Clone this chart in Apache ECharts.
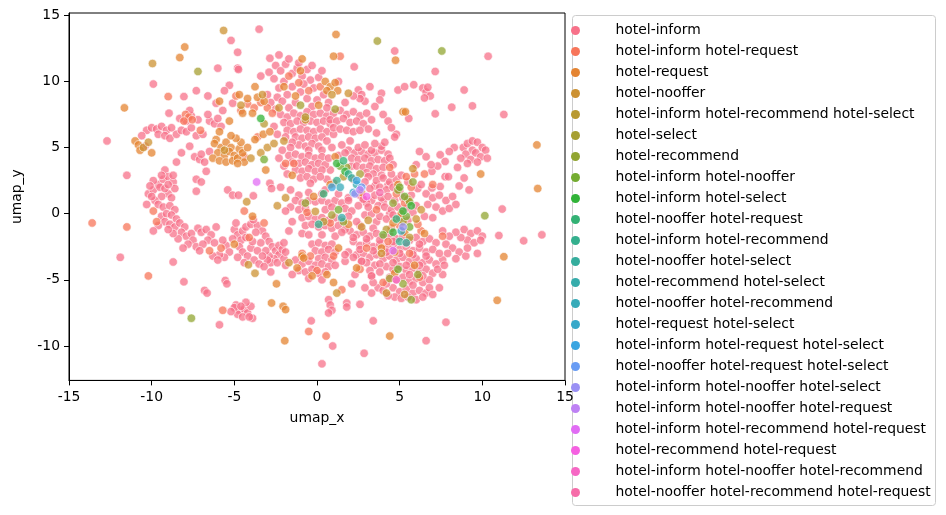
<!DOCTYPE html>
<html><head><meta charset="utf-8">
<script src="https://cdn.jsdelivr.net/npm/echarts@6/dist/echarts.min.js"></script>
<style>html,body{margin:0;padding:0;background:#fff}#c{width:946px;height:515px}</style>
</head><body><div id="c"></div><script>
const categories = [
  'hotel-inform','hotel-inform hotel-request','hotel-request','hotel-nooffer',
  'hotel-inform hotel-recommend hotel-select','hotel-select','hotel-recommend',
  'hotel-inform hotel-nooffer','hotel-inform hotel-select','hotel-nooffer hotel-request',
  'hotel-inform hotel-recommend','hotel-nooffer hotel-select','hotel-recommend hotel-select',
  'hotel-nooffer hotel-recommend','hotel-request hotel-select','hotel-inform hotel-request hotel-select',
  'hotel-nooffer hotel-request hotel-select','hotel-inform hotel-nooffer hotel-select',
  'hotel-inform hotel-nooffer hotel-request','hotel-inform hotel-recommend hotel-request',
  'hotel-recommend hotel-request','hotel-inform hotel-nooffer hotel-recommend',
  'hotel-nooffer hotel-recommend hotel-request'
];
const xTicks = [-15,-10,-5,0,5,10,15];
const yTicks = [-10,-5,0,5,10,15];

const hotelInform = [
[-12.7,5.5],[-9.9,9.8],[-8.05,8.85],[-8.95,7.6],[-6.0,11.0],[-4.8,11.0],[-5.2,13.1],[-4.8,12.2],[-3.5,13.95],[-5.3,9.7],[-7.3,9.3],[-6.6,8.9],[-6.1,8.35],[-5.1,8.35],[-5.6,9.3],[-4.75,10.9],
[-10.3,6.3],[-10.0,6.5],[-9.7,6.4],[-9.4,6.6],[-9.1,6.3],[-8.8,6.5],[-9.6,6.0],[-9.2,5.9],[-8.9,5.7],[-8.5,6.0],[-8.2,6.3],[-7.9,6.2],[-7.6,6.5],[-7.3,5.9],[-6.9,6.0],[-7.2,7.1],[-7.6,7.4],[-7.9,7.0],[-8.3,7.2],[-7.7,7.8],[-6.5,7.0],[-6.2,6.8],[-5.8,6.6],[-6.0,7.2],[-6.6,7.5],[-5.7,7.8],[-10.6,5.9],[-10.4,5.1],
[-7.7,5.1],[-7.4,4.3],[-7.1,4.1],[-6.8,3.9],[-7.0,4.5],[-8.5,3.9],[-9.2,3.3],[-6.7,3.2],[-7.3,2.6],[-7.0,2.4],[-7.3,1.7],[-11.5,2.9],[-8.2,4.6],[-6.5,4.7],
[-10.2,1.5],[-9.9,1.8],[-9.6,2.2],[-9.3,2.6],[-9.0,2.8],[-8.7,2.4],[-8.6,1.9],[-9.0,1.5],[-9.4,1.3],[-9.8,1.0],[-10.0,1.3],[-9.5,2.0],[-9.2,1.9],[-8.8,1.2],[-9.6,0.7],[-9.3,0.5],[-10.3,0.7],[-8.9,0.6],[-8.6,0.3],[-9.9,2.5],[-10.1,2.1],[-9.0,2.2],[-8.7,2.9],[-9.4,2.9],
[-9.4,-0.2],[-9.1,0.0],[-8.8,-0.1],[-8.5,-0.4],[-9.2,-0.6],[-8.9,-0.8],[-8.6,-1.0],[-8.3,-0.7],[-8.0,-1.0],[-8.2,-1.4],[-7.9,-1.7],[-7.6,-1.5],[-7.5,-2.0],[-7.8,-2.3],[-7.3,-2.5],[-8.4,-1.9],[-8.7,-1.5],[-9.0,-1.2],[-9.6,-0.9],[-9.9,-1.3],[-7.2,-1.1],[-7.0,-1.4],[-6.7,-1.2],[-6.4,-1.6],[-6.6,-2.0],[-6.2,-2.2],[-6.9,-2.3],[-6.1,-1.0],[-5.5,-2.4],[-5.3,-2.9],[-5.6,-3.3],[-5.9,-3.1],[-6.3,-3.2],[-6.0,-3.5],[-5.7,-2.0],[-7.1,-2.8],[-8.1,-2.6],
[-11.9,-3.3],[-8.7,-3.65],[-8.05,-5.15],[-6.8,-5.8],[-6.65,-6.0],[-5.55,-5.05],[-5.45,-5.3],[-8.2,-7.3],[-5.9,-8.4],[-5.4,1.8],[-5.1,1.4],[-4.9,-6.9],[-4.7,-7.3],[-4.8,-7.6],[-5.0,-7.1],[-4.4,-7.2],[-4.2,-7.5],[-4.5,-7.8],[-4.0,-7.0],[-5.2,-7.4],[-4.3,-6.7],[-4.6,-7.0],[-3.9,-7.9],[-4.1,-7.8],
[-5.0,-1.2],[-4.8,-1.6],[-4.6,-2.0],[-4.5,-1.3],[-4.9,-0.7],[-4.3,-1.0],[-4.0,-0.8],[-3.6,-0.9],[-3.3,-1.3],[-3.1,-1.7],[-2.9,-2.1],[-2.7,-2.5],[-2.5,-2.8],[-2.3,-3.1],[-2.6,-3.4],[-2.9,-3.2],[-3.1,-2.8],[-2.3,-2.4],[-2.1,-2.7],[-2.8,-3.7],[-2.4,-3.7],[-3.0,-3.5],[-4.7,-2.5],[-4.5,-2.9],[-4.2,-3.2],[-3.8,-3.5],[-3.5,-3.8],[-4.0,-2.6],[-3.4,-2.2],[-2.8,-4.4],[-5.1,-1.9],[-3.7,-1.4],[-2.0,-3.4],
[-4.3,-1.8],[-3.9,-2.1],[-3.6,-2.8],[-3.3,-3.2],[-2.0,-2.2],[-1.9,-2.9],[-4.8,-3.3],[-4.4,-3.7],[-3.2,-4.0],
[-2.85,11.75],[-2.5,11.2],[-2.2,10.8],[-1.9,11.3],[-1.5,10.6],[-1.2,11.0],[-0.9,10.4],[-0.6,10.9],[-2.6,10.2],[-2.0,10.0],[-1.5,9.6],[-0.4,10.1],[0.1,10.3],[-0.2,9.5],[-1.0,9.2],[-1.8,9.0],[-2.4,8.8],[-3.0,9.0],[-2.8,8.4],[-2.1,8.5],[-1.3,8.4],[-0.6,8.7],[0.0,8.6],[0.4,9.0],[-3.4,10.4],[-2.3,12.0],
[-1.7,11.7],[-1.1,11.4],[-0.3,11.2],[0.3,10.8],[-2.9,10.7],[-2.3,9.5],[-0.8,9.8],[0.7,8.4],[-1.7,8.0],[-0.3,8.1],[-2.5,7.9],
[-2.2,7.5],[-1.8,7.3],[-1.4,7.6],[-1.0,7.4],[-0.6,7.7],[-0.2,7.5],[0.2,7.6],[0.6,7.4],[-2.0,6.9],[-1.6,6.8],[-1.2,7.0],[-0.8,6.9],[-0.4,7.0],[0.0,6.9],[0.4,7.0],[0.8,6.8],[-1.8,6.3],[-1.4,6.2],[-1.0,6.4],[-0.6,6.3],[-0.2,6.2],[0.2,6.4],[0.6,6.2],[-1.3,5.8],[-0.9,5.7],[-0.5,5.8],[-0.1,5.7],[0.3,5.8],[-1.1,5.2],[-0.7,5.1],[-0.3,5.3],[0.1,5.1],[-1.5,5.4],[-0.5,4.8],[0.3,4.8],[-2.4,6.0],[-2.6,6.6],[1.0,6.0],
[-1.6,5.0],[-1.9,5.8],[0.6,5.5],[0.9,5.0],[-2.0,3.6],[-1.8,3.0],[0.8,3.3],[0.6,2.6],
[-1.7,4.4],[-1.3,4.5],[-0.9,4.3],[-0.5,4.4],[-0.1,4.2],[0.3,4.3],[-1.5,3.9],[-1.1,3.8],[-0.7,3.9],[-0.3,3.7],[0.1,3.8],[0.5,3.7],[-1.3,3.3],[-0.9,3.2],[-0.5,3.4],[-0.1,3.2],[0.3,3.3],[-1.0,2.7],[-0.6,2.8],[-0.2,2.6],[0.2,2.8],[-0.4,2.3],[0.5,1.8],[-2.1,4.8],[-2.3,4.2],[0.7,4.2],
[-2.85,2.3],[-2.75,1.9],[-1.1,1.4],[-1.6,1.8],[-2.2,2.0],[-4.75,1.4],[-3.85,1.35],[-3.85,-0.45],[1.9,1.2],[2.8,1.05],[2.1,3.6],
[1.3,10.0],[2.5,9.35],[2.7,9.0],[2.9,8.5],[2.6,8.7],[3.9,9.1],[3.8,8.6],[4.9,9.35],[3.5,8.1],[4.0,7.5],[4.8,6.0],[0.6,8.0],[1.0,7.6],[1.4,7.8],[1.8,7.5],[2.2,7.7],[2.6,7.4],[3.0,7.6],[0.8,7.1],[1.2,7.0],[1.6,7.2],[2.0,6.9],[2.4,7.0],[2.8,6.8],[3.1,6.4],[1.0,6.5],[1.4,6.4],[1.8,6.3],[2.2,6.2],[2.6,6.3],[3.3,7.1],[4.3,7.0],[4.5,6.5],[3.6,6.1],[2.25,11.1],[4.7,12.3],[1.7,8.4],[2.2,8.9],[3.2,9.6],
[10.35,11.9],[7.15,10.75],[5.3,9.6],[5.85,9.75],[6.4,9.5],[6.6,9.2],[6.85,8.9],[6.5,8.75],[6.7,9.55],[8.9,9.35],[5.55,7.2],[7.15,7.55],[8.15,8.05],[9.4,8.15],[11.3,7.5],
[1.9,4.8],[2.3,4.6],[2.7,4.7],[3.1,4.5],[3.5,4.6],[3.9,4.8],[4.3,4.5],[2.1,4.2],[2.5,4.1],[2.9,4.2],[3.3,4.0],[3.7,4.1],[4.1,4.0],[2.4,3.6],[2.8,3.5],[3.2,3.6],[3.6,3.4],[4.0,3.5],[3.0,3.1],[3.4,3.0],[4.7,5.8],[3.3,4.8],[3.9,5.1],[2.0,5.5],[1.5,5.2],
[1.3,4.4],[1.7,4.6],[2.5,5.0],[2.9,5.2],[3.5,5.3],[4.1,5.4],[4.4,4.2],[4.6,3.7],[3.1,2.8],[3.5,2.1],[3.9,2.9],[4.3,2.2],[2.6,1.4],[3.3,1.0],[3.6,-0.6],[4.0,0.9],[4.4,0.0],[2.9,-0.1],[3.4,-1.1],[2.6,-0.9],[3.0,0.8],
[3.6,2.5],[4.0,2.7],[4.4,2.4],[4.8,2.6],[3.8,2.0],[4.2,1.8],[4.6,2.0],[5.0,1.7],[3.5,1.4],[3.9,1.2],[4.3,1.3],[4.7,1.0],[5.2,1.2],[3.7,0.6],[4.1,0.5],[4.5,0.3],[4.9,0.5],[5.4,0.4],[3.3,0.0],[3.8,-0.2],[4.2,-0.4],[4.6,-0.1],[5.0,-0.3],[5.5,-0.5],[5.8,0.1],[6.0,0.6],[5.7,1.4],[6.1,1.9],[5.5,2.4],[5.1,2.9],[4.5,3.0],[2.9,2.4],[3.2,1.9],[2.8,1.1],[3.1,0.5],
[6.2,4.7],[7.45,4.45],[7.75,3.95],[6.0,3.7],[6.95,3.2],[7.75,2.8],[7.95,2.8],[6.3,2.2],[6.95,1.95],[7.45,2.05],[6.6,1.5],[7.0,1.2],[7.4,1.4],[7.8,1.0],[8.2,1.3],[6.7,0.7],[7.2,0.5],[7.6,0.2],[8.0,0.4],[8.4,0.7],[6.5,-0.2],[7.0,-0.3],[8.6,2.1],[8.9,2.7],[8.5,3.5],[9.2,1.8],[7.3,3.6],
[8.85,5.0],[9.1,5.3],[9.4,5.5],[9.7,5.4],[10.0,5.0],[9.4,4.8],[9.0,4.5],[9.3,4.1],[9.6,4.6],[9.9,4.3],[10.2,4.8],[8.7,4.2],[9.1,3.8],
[8.3,5.0],[9.7,3.9],[10.3,4.2],[8.0,4.7],[6.6,4.3],[6.9,3.7],
[11.2,0.35],[11.0,-1.65],[12.5,-2.05],[13.6,-1.6],[9.7,-3.0],
[8.9,-1.2],[9.3,-1.5],[9.7,-1.3],[10.0,-1.7],[9.1,-2.0],[9.5,-2.2],[9.9,-2.0],[8.7,-1.8],[8.4,-1.4],[7.6,-1.3],[8.0,-1.7],[7.8,-2.3],[8.2,-2.6],[8.6,-2.9],[9.0,-3.2],[8.4,-3.4],[7.9,-3.0],[7.6,-3.5],[9.1,-2.6],
[2.0,-1.3],[2.4,-1.6],[2.8,-1.4],[3.2,-1.7],[3.6,-1.5],[4.0,-1.8],[4.4,-1.6],[4.8,-1.9],[5.2,-1.7],[5.6,-2.0],[6.0,-1.8],[6.4,-2.1],[6.8,-1.9],[7.2,-2.2],
[2.2,-2.1],[2.6,-2.4],[3.0,-2.2],[3.4,-2.5],[3.8,-2.3],[4.2,-2.6],[4.6,-2.4],[5.0,-2.7],[5.4,-2.5],[5.8,-2.8],[6.2,-2.6],[6.6,-2.9],[7.0,-2.7],[7.4,-3.0],
[1.9,-2.9],[2.4,-3.1],[2.8,-3.0],[3.2,-3.3],[3.6,-3.1],[4.0,-3.4],[4.4,-3.2],[4.8,-3.5],[5.2,-3.3],[5.6,-3.6],[6.0,-3.4],[6.4,-3.7],[6.8,-3.5],[7.2,-3.8],
[1.7,-3.6],[2.7,-3.6],[3.5,-3.9],[4.2,-4.0],[4.6,-4.2],[5.0,-4.0],[5.4,-4.3],[5.8,-4.1],[6.2,-4.4],[6.6,-4.2],[7.0,-4.5],
[3.3,-4.7],[4.4,-4.8],[4.8,-5.0],[5.2,-4.8],[5.6,-5.1],[6.0,-4.9],[6.4,-5.2],[6.8,-5.0],
[2.9,-5.6],[3.7,-5.6],[4.0,-5.8],[4.6,-5.6],[5.0,-5.9],[5.4,-5.7],[5.8,-6.0],[6.2,-5.8],[6.6,-6.0],
[4.7,-6.3],[5.1,-6.4],[6.0,-6.5],[6.4,-6.3],[7.4,-5.6],[7.6,-4.6],[7.8,-8.2],[6.6,-9.6],
[2.2,-1.8],[3.0,-1.9],[3.8,-2.0],[4.6,-2.1],[5.4,-2.2],[6.2,-2.3],[2.6,-2.7],[3.4,-2.8],[4.2,-2.9],[5.0,-3.0],[5.8,-3.1],[6.6,-3.2],[3.0,-3.7],[3.8,-3.8],[4.6,-3.7],[5.4,-3.9],[6.2,-3.9],[3.2,-4.3],[3.8,-4.4],[5.6,-4.6],[6.4,-4.7],[3.4,-5.2],[4.2,-5.3],[5.8,-5.4],[6.8,-5.6],[3.3,-6.0],[4.3,-6.2],[5.5,-6.3],[7.0,-6.1],[2.3,-4.6],[2.1,-5.3],[7.3,-4.2],[7.7,-3.9],
[-1.3,1.0],[-0.9,0.8],[-0.5,1.0],[-0.1,0.9],[0.3,1.0],[0.7,0.8],[1.1,1.0],[1.5,0.8],[1.9,1.0],[-1.1,0.3],[-0.7,0.4],[0.5,0.3],[0.9,0.5],[1.7,0.4],[2.1,0.2],[-0.9,-0.3],[-0.5,-0.2],[-0.1,-0.4],[0.3,-0.3],[0.7,-0.5],[1.1,-0.3],[1.5,-0.5],[1.9,-0.2],[-0.7,-0.9],[-0.3,-0.8],[0.1,-1.0],[0.5,-0.9],[0.9,-1.1],[1.3,-0.9],[1.7,-1.2],[2.5,0.6],[2.4,-0.6],[-1.6,0.5],
[-0.9,-1.5],[-0.5,-1.6],[0.3,-1.6],[1.1,-1.7],[1.5,-1.4],[-1.5,-0.6],[-1.9,0.2],[-1.7,-1.3],[1.3,1.5],[0.3,1.5],[-0.5,1.6],
[-0.3,-2.3],[0.1,-2.2],[0.5,-2.4],[0.9,-2.3],[-0.1,-2.8],[0.3,-2.9],[0.7,-2.7],[1.1,-2.9],[0.1,-3.4],[0.5,-3.3],[0.9,-3.5],[-1.3,-3.5],[-0.9,-3.8],[-0.5,-3.6],[-0.1,-3.9],[0.3,-3.8],[0.7,-4.0],[1.1,-3.9],[-1.1,-4.3],[-0.7,-4.4],[-0.3,-4.2],[0.1,-4.5],[0.5,-4.4],[-1.5,-4.6],[-0.5,-4.9],[0.3,-5.0],[-1.9,-3.9],
[-0.35,-8.1],[0.95,-10.0],[0.3,-11.35],[3.4,-8.1],[2.6,-6.85],[1.8,-6.75],[1.8,-7.05],[0.7,-6.5],[0.8,-6.9],[0.9,-7.3],[0.7,-7.5],[3.3,-4.7],[1.7,-3.1],[2.2,-3.3],[2.7,-3.6],[2.85,-10.55]
];
const hotelInformRequest = [
[-13.6,-0.7],[-11.5,-1.0],[-10.2,-4.7],[-9.9,0.2],[-9.7,-0.6],[-9.0,8.85],[-7.95,7.5],[-7.75,7.3],[-7.55,7.1],[-8.05,7.0],[-7.05,6.3],[-5.7,-7.3],[-0.5,-8.9],[0.55,-9.25],[-4.2,8.3],[-3.8,8.0],[-3.4,8.4],[-4.6,7.8],[-3.0,8.0],[-4.9,8.9],[-2.7,7.6],[-1.9,3.8],[-1.4,3.8],[-3.6,5.8],[-4.4,4.3],[0.2,9.6],[-0.5,9.3],[-1.1,9.9],[1.5,-5.75],[-0.9,-3.0],[-0.4,-3.2],[0.0,-4.3],[4.5,-1.1],[5.0,-0.9],[5.3,0.8],[4.8,1.5],[5.7,2.0],[6.5,3.0],[5.9,3.0],[6.3,-1.3],[7.0,2.2],[3.6,0.3],[4.3,-2.1],[5.6,-3.0],[6.2,-4.8],[7.6,-1.7],[5.4,2.8],[3.0,-2.6],[2.6,-4.2],[4.0,-5.2],[1.0,-3.2],[2.2,2.6],[1.0,2.3],[0.8,-0.7],[-0.6,0.1],[-3.2,-0.7],[-4.1,-1.8],[-4.4,0.2],[-6.5,-2.8],[1.4,11.9],[-1.7,10.4],[-5.8,-2.6],[4.4,3.5],[6.1,-0.8]
];
const hotelRequest = [
[-11.65,8.0],[-8.0,12.6],[-8.3,11.8],[-11.0,5.5],[-10.8,5.2],[-10.7,4.8],[-10.0,4.6],[-6.1,5.6],[-5.9,6.2],[-5.3,7.0],[-6.2,5.3],[-5.8,5.0],[-5.5,5.4],[-5.2,5.0],[-6.0,4.6],[-5.6,4.4],[-5.3,4.7],[-5.0,4.4],[-4.7,4.9],[-6.3,4.2],[-5.9,4.0],[-5.5,3.9],[-5.1,4.0],[-4.8,4.2],[-4.5,4.6],[-4.2,5.0],[-4.6,5.4],[-4.9,5.7],[-5.2,5.9],[-4.4,3.9],[-4.8,3.8],[-3.75,5.6],[-3.25,6.0],[-2.85,6.2],[-3.75,9.6],[-4.7,9.0],[-4.2,8.7],[-3.6,8.8],[-3.2,8.5],[-4.5,7.6],[-3.9,7.6],[-3.1,3.3],[0.8,2.2],[1.15,13.55],[1.0,11.9],[-0.9,11.7],[0.5,10.0],[0.8,9.6],[1.1,9.9],[1.25,9.3],[0.6,9.3],[5.2,7.7],[5.35,7.7],[13.3,5.2],[9.9,3.0],[13.35,1.9],[11.3,-3.25],[10.9,-6.55],[-0.9,-3.2],[-2.45,-5.3],[-2.75,-6.75],[-2.05,-7.0],[-1.9,-7.25],[-1.95,-9.6],[1.0,-5.2],[-0.8,-3.35],[2.4,-4.1],[4.4,-9.25],[-2.0,9.6],[-1.3,8.9],[-1.0,10.8],[-5.9,8.5],[0.1,8.2],[4.6,-0.7],[5.1,0.0],[4.9,2.2],[5.5,1.1],[3.9,-2.6],[5.3,-1.4],[4.7,-4.5],[-0.3,-4.7],[-1.2,-4.1],[0.6,-4.6],[1.3,-2.6],[-0.2,1.3],[1.1,4.3],[-1.5,2.9],[4.75,11.6],[4.7,-2.9],[5.9,-3.9],[6.5,-1.5],[1.9,-0.8],[2.7,1.6],[-5.0,-2.3],[-3.9,-0.2]
];
const hotelNooffer = [
[-5.65,13.85],[-9.95,11.35],[-10.5,5.0],[-10.2,5.4],[-3.75,-4.5],[-4.15,-3.85],[-1.9,1.2],[-4.25,0.9],[-3.4,4.6],[-4.0,4.2],[-3.0,5.0],[-2.6,5.3],[-2.0,5.5],[-5.6,4.8],[-4.6,8.2],[-3.3,9.0],[1.9,9.1],[0.9,9.0],[-0.7,7.1],[1.2,-6.0],[4.2,-6.0],[3.9,-3.0],[6.3,0.3],[6.0,-0.4],[5.8,3.4],[-0.1,0.17],[-2.4,0.6],[2.7,-1.0],[3.1,-0.5],[5.3,-6.1],[-1.7,-3.7],[-2.3,8.0]
];
const informRecommendSelect = [[-0.7,7.3],[1.6,2.8],[4.2,-1.2],[0.4,-0.6],[-3.2,6.8],[5.6,-1.8]];
const hotelSelect = [[-7.2,10.75],[3.65,13.05],[1.1,7.9],[0.9,-0.1],[4.4,-4.9],[5.2,-0.6],[2.6,3.0],[-1.0,8.2]];
const hotelRecommend = [[7.55,12.3],[-7.6,-7.9],[10.15,-0.15],[5.7,-6.5],[4.9,1.8],[5.6,0.9],[5.2,-5.3],[1.6,-0.6],[-0.7,0.8],[4.6,0.8],[1.8,3.5],[5.8,2.4],[6.1,-4.6]];
const informNooffer = [[5.3,1.3],[5.6,-1.0],[4.9,-4.2],[1.3,0.3],[5.0,2.0],[4.0,-1.6],[1.4,3.6],[5.4,-0.2],[-3.2,4.1]];
const informSelect = [[1.2,3.8],[5.7,0.6],[5.2,0.2],[1.7,3.2],[4.6,-1.4],[-3.4,7.2]];
const noofferRequest = [[1.6,4.0],[4.8,-0.4],[0.4,1.5]];
const informRecommend = [[1.9,3.0],[5.0,-2.1],[1.2,2.5],[0.1,-0.8]];
const noofferSelect = [[2.1,2.7],[5.4,-2.2]];
const recommendSelect = [[2.4,2.2],[1.5,-0.3]];
const noofferRecommend = [[1.4,2.0],[5.1,-1.3]];
const requestSelect = [[2.2,1.6]];
const informRequestSelect = [[2.4,2.5],[0.9,2.0]];
const noofferRequestSelect = [[2.7,2.0]];
const informNoofferSelect = [[2.3,1.5],[5.2,-1.0]];
const informNoofferRequest = [[2.6,1.8]];
const informRecommendRequest = [[-3.65,2.4],[4.6,-2.8]];
const recommendRequest = [[3.0,1.3]];
const informNoofferRecommend = [[4.8,-5.0]];
const noofferRecommendRequest = [[3.8,1.6]];

const seriesData = [hotelInform,hotelInformRequest,hotelRequest,hotelNooffer,informRecommendSelect,hotelSelect,hotelRecommend,informNooffer,informSelect,noofferRequest,informRecommend,noofferSelect,recommendSelect,noofferRecommend,requestSelect,informRequestSelect,noofferRequestSelect,informNoofferSelect,informNoofferRequest,informRecommendRequest,recommendRequest,informNoofferRecommend,noofferRecommendRequest];

// seaborn husl palette
function huslPalette(n){
  const m=[[3.2406,-1.5372,-0.4986],[-0.9689,1.8758,0.0415],[0.0557,-0.2040,1.0570]];
  const refU=0.19784, refV=0.46834, labE=0.008856, labK=903.3;
  function maxChroma(L,H){
    const hr=H*Math.PI/180, sinH=Math.sin(hr), cosH=Math.cos(hr);
    const sub1=Math.pow(L+16,3)/1560896, sub2=sub1>labE?sub1:L/labK;
    let res=Infinity;
    for(const [m1,m2,m3] of m){
      const top=(0.99915*m1+1.05122*m2+1.14460*m3)*sub2;
      const rb=0.86330*m3-0.17266*m2, lb=0.12949*m3-0.38848*m1;
      const bottom=(rb*sinH+lb*cosH)*sub2;
      for(const t of [0,1]){
        const C=L*(top-1.05122*t)/(bottom+0.17266*sinH*t);
        if(C>0 && C<res) res=C;
      }
    }
    return res;
  }
  function fInv(t){ return Math.pow(t,3)>labE?Math.pow(t,3):(116*t-16)/labK; }
  function fromLin(c){ return c<=0.0031308?12.92*c:1.055*Math.pow(c,1/2.4)-0.055; }
  function husl2rgb(H,S,L){
    const C=maxChroma(L,H)/100*S, hr=H*Math.PI/180;
    const U=Math.cos(hr)*C, V=Math.sin(hr)*C;
    const Y=fInv((L+16)/116), vU=U/(13*L)+refU, vV=V/(13*L)+refV;
    const X=-(9*Y*vU)/((vU-4)*vV-vU*vV);
    const Z=(9*Y-15*vV*Y-vV*X)/(3*vV);
    return m.map(r=>{const v=fromLin(r[0]*X+r[1]*Y+r[2]*Z);return Math.round(Math.min(1,Math.max(0,v))*255);});
  }
  const out=[];
  for(let i=0;i<n;i++){
    const h=((i/n+0.01)%1)*359;
    const [r,g,b]=husl2rgb(h,0.9*99,0.65*99);
    out.push('rgb('+r+','+g+','+b+')');
  }
  return out;
}
const palette = huslPalette(categories.length);
const FONT = 'DejaVu Sans';
const FS = 13.9;

const chart = echarts.init(document.getElementById('c'), null, {renderer:'canvas'});
const series = categories.map((name,i)=>({
  type:'scatter', name, data: seriesData[i], symbolSize:8.5,
  itemStyle:{color:palette[i], opacity:0.75, borderColor:'#ffffff', borderWidth:0.8},
  emphasis:{disabled:true}, animation:false, z:2
}));

chart.setOption({
  animation:false,
  color: palette,
  grid:{left:69, right:381, top:13, bottom:134.6, show:true, borderColor:'#000', borderWidth:1, backgroundColor:'transparent'},
  xAxis:{
    type:'value', min:-15, max:15, interval:5,
    name:'umap_x', nameLocation:'middle', nameGap:31,
    nameTextStyle:{color:'#000', fontSize:FS, fontFamily:FONT},
    axisLine:{show:true, onZero:false, lineStyle:{color:'#000', width:1}},
    axisTick:{show:true, length:5, inside:false, lineStyle:{color:'#000', width:1}},
    axisLabel:{color:'#000', fontSize:FS, fontFamily:FONT, margin:10},
    splitLine:{show:false}
  },
  yAxis:{
    type:'value', min:-12.6, max:15.17,
    name:'umap_y', nameLocation:'middle', nameGap:45, nameRotate:90,
    nameTextStyle:{color:'#000', fontSize:FS, fontFamily:FONT},
    axisLine:{show:true, onZero:false, lineStyle:{color:'#000', width:1}},
    axisTick:{show:true, length:5, inside:false, customValues:yTicks, lineStyle:{color:'#000', width:1}},
    axisLabel:{color:'#000', fontSize:FS, fontFamily:FONT, margin:9, customValues:yTicks},
    splitLine:{show:false}
  },
  legend:{
    orient:'vertical', left:571, top:23, padding:0,
    itemWidth:40, itemHeight:9, itemGap:6, icon:'circle',
    itemStyle:{opacity:1, borderWidth:0},
    textStyle:{color:'#000', fontSize:FS, fontFamily:FONT, lineHeight:15, padding:[0,0,0,15]},
    selectedMode:false,
    data: categories
  },
  graphic:[{type:'rect', shape:{x:572.5, y:15.5, width:363, height:490, r:3}, style:{fill:'none', stroke:'#cccccc', lineWidth:1}, silent:true}],
  series
});
</script></body></html>
